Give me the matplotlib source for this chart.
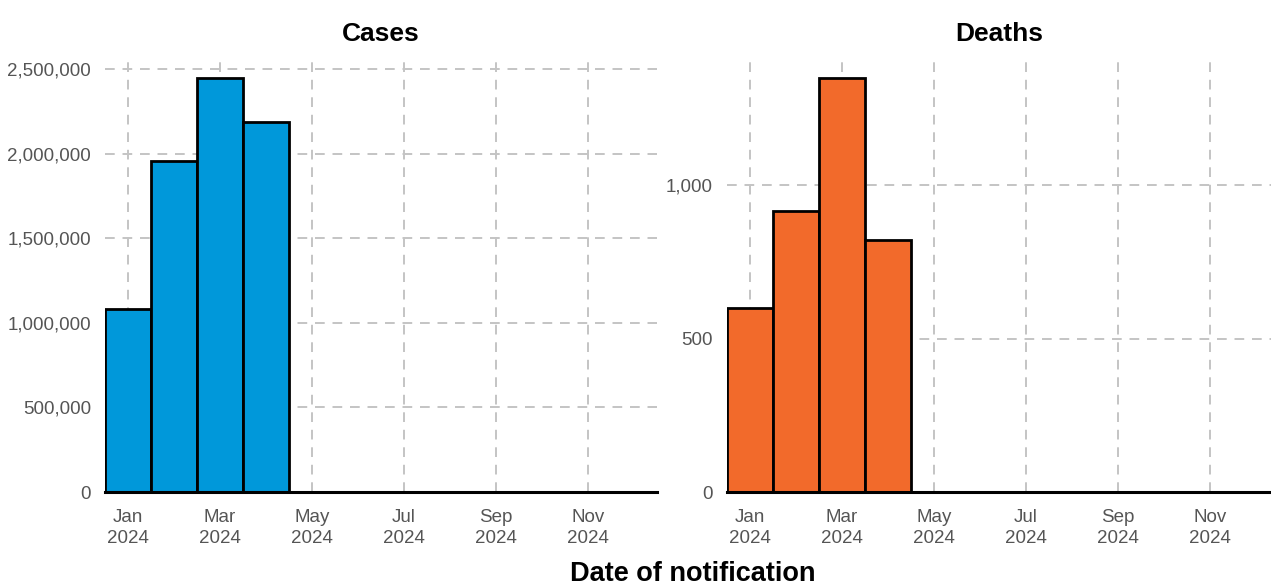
import numpy as np
import matplotlib as mpl
mpl.use('Agg')
import matplotlib.pyplot as plt
from matplotlib import font_manager
from matplotlib.ticker import FuncFormatter

# monthly notifications, 2024
months = ['Jan', 'Feb', 'Mar', 'Apr']
cases = [1082000, 1956000, 2447000, 2187000]
deaths = [599, 915, 1349, 821]
tick_months = [0, 2, 4, 6, 8, 10]
tick_labels = ['Jan\n2024', 'Mar\n2024', 'May\n2024', 'Jul\n2024', 'Sep\n2024', 'Nov\n2024']
cases_yticks = [0, 500000, 1000000, 1500000, 2000000, 2500000]
deaths_yticks = [0, 500, 1000]

names = {f.name for f in font_manager.fontManager.ttflist}
FONT = 'Liberation Sans Narrow' if 'Liberation Sans Narrow' in names else 'Liberation Sans'
plt.rcParams['font.family'] = [FONT, 'DejaVu Sans']

BLUE = '#0098DA'
ORANGE = '#F26A2B'
GRID = '#C4C4C4'


def style_panel(ax, title, yticks, ylim, xright):
    """ common look of both panels """
    ax.set_xlim(-0.5, xright)
    ax.set_ylim(0, ylim)
    ax.set_xticks(tick_months)
    ax.set_xticklabels(tick_labels, linespacing=1.3)
    ax.set_yticks(yticks)
    ax.yaxis.set_major_formatter(FuncFormatter(lambda v, p: f'{int(v):,}'))
    ax.tick_params(axis='both', length=0, labelsize=13.5, colors='#555555')
    ax.tick_params(axis='x', pad=12)
    ax.tick_params(axis='y', pad=10)
    ax.grid(True, color=GRID, linestyle=(0, (5, 4)), linewidth=1.4)
    ax.set_axisbelow(True)
    for s in ['left', 'right', 'top']:
        ax.spines[s].set_visible(False)
    ax.spines['bottom'].set_linewidth(2.2)
    ax.spines['bottom'].set_color('black')
    ax.set_title(title, fontsize=19, fontweight='bold', pad=14)


fig = plt.figure(figsize=(12.71, 5.86), dpi=100)
ax1 = fig.add_axes([0.0826, 0.1604, 0.4343, 0.737])
ax2 = fig.add_axes([0.572, 0.1604, 0.428, 0.737])

x = np.arange(len(months))
ax1.bar(x, cases, width=1.0, color=BLUE, edgecolor='black', linewidth=2)
ax2.bar(x, deaths, width=1.0, color=ORANGE, edgecolor='black', linewidth=2)

style_panel(ax1, 'Cases', cases_yticks, 2553000, 11.5)
style_panel(ax2, 'Deaths', deaths_yticks, 1407, 11.33)

fig.text(0.545, 0.02, 'Date of notification', ha='center', va='center',
         fontsize=19.5, fontweight='bold')

plt.savefig('out.png', dpi=100)
